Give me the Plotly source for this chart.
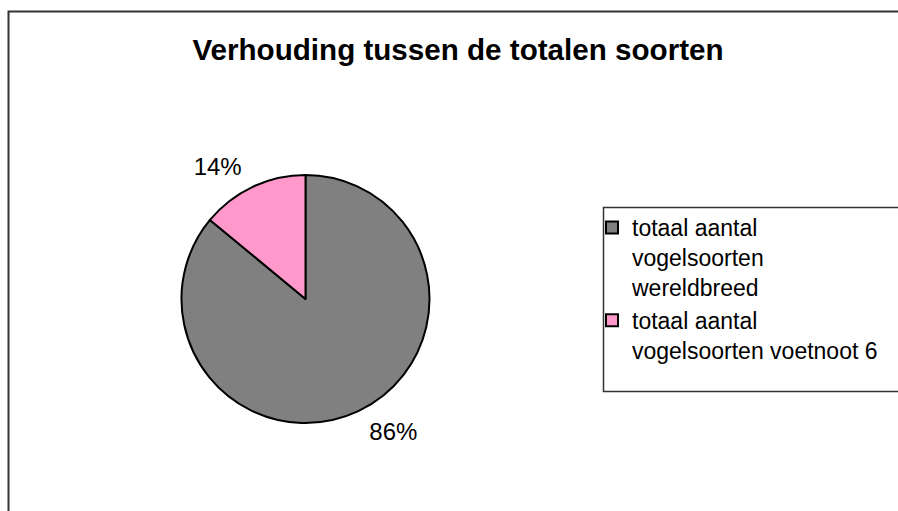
import plotly.graph_objects as go

title_text = "Verhouding tussen de totalen soorten"
categories = ["totaal aantal<br>vogelsoorten<br>wereldbreed",
              "totaal aantal<br>vogelsoorten voetnoot 6"]
values = [86, 14]
colors = ["#808080", "#FF99CC"]

W, H = 898, 511
cx, cy, r = 305.5, 299, 124
r_lab = r + 10  # radius used only to place the outside percentage labels


def dom(rad):
    return dict(x=[(cx - rad) / W, (cx + rad) / W],
                y=[(H - cy - rad) / H, (H - cy + rad) / H])


fig = go.Figure()
fig.add_trace(go.Pie(
    labels=categories,
    values=values,
    sort=False,
    direction="clockwise",
    rotation=0,
    marker=dict(colors=colors, line=dict(color="black", width=2)),
    textinfo="none",
    domain=dom(r),
    hoverinfo="label+percent",
))
fig.add_trace(go.Pie(
    labels=categories,
    values=values,
    sort=False,
    direction="clockwise",
    rotation=0,
    marker=dict(colors=["rgba(0,0,0,0)"] * len(values),
                line=dict(color="rgba(0,0,0,0)", width=0)),
    texttemplate="%{percent:.0%}",
    textposition="outside",
    textfont=dict(family="Liberation Sans, Arial", size=24, color="black"),
    domain=dom(r_lab),
    hoverinfo="skip",
    showlegend=False,
))

fig.update_layout(
    width=W, height=H,
    margin=dict(l=0, r=0, t=0, b=0),
    paper_bgcolor="white",
    plot_bgcolor="white",
    font=dict(family="Liberation Sans, Arial", color="black"),
    title=dict(text="<b>" + title_text + "</b>",
               font=dict(family="Liberation Sans, Arial", size=29.6, color="black"),
               x=458 / W, xanchor="center", xref="paper",
               y=1 - 50 / H, yanchor="middle", yref="container"),
    showlegend=True,
    legend=dict(
        x=592 / W, xanchor="left",
        y=1 - 206 / H, yanchor="top",
        font=dict(family="Liberation Sans, Arial", size=23, color="black"),
        bgcolor="rgba(0,0,0,0)",
        borderwidth=0,
        valign="top",
        tracegroupgap=0,
    ),
    shapes=[
        dict(type="rect", xref="paper", yref="paper",
             x0=8.5 / W, x1=1.05, y0=-0.05, y1=1 - 11.5 / H,
             line=dict(color="#333333", width=2), fillcolor="rgba(0,0,0,0)", layer="below"),
        dict(type="rect", xref="paper", yref="paper",
             x0=603.5 / W, x1=1.05, y0=1 - 391.5 / H, y1=1 - 207.5 / H,
             line=dict(color="#333333", width=1.5), fillcolor="rgba(0,0,0,0)", layer="below"),
    ],
)

fig.write_html(
    "out.html",
    config={"displayModeBar": False},
    post_script="document.body.style.margin='0';document.body.style.overflow='hidden';",
)
